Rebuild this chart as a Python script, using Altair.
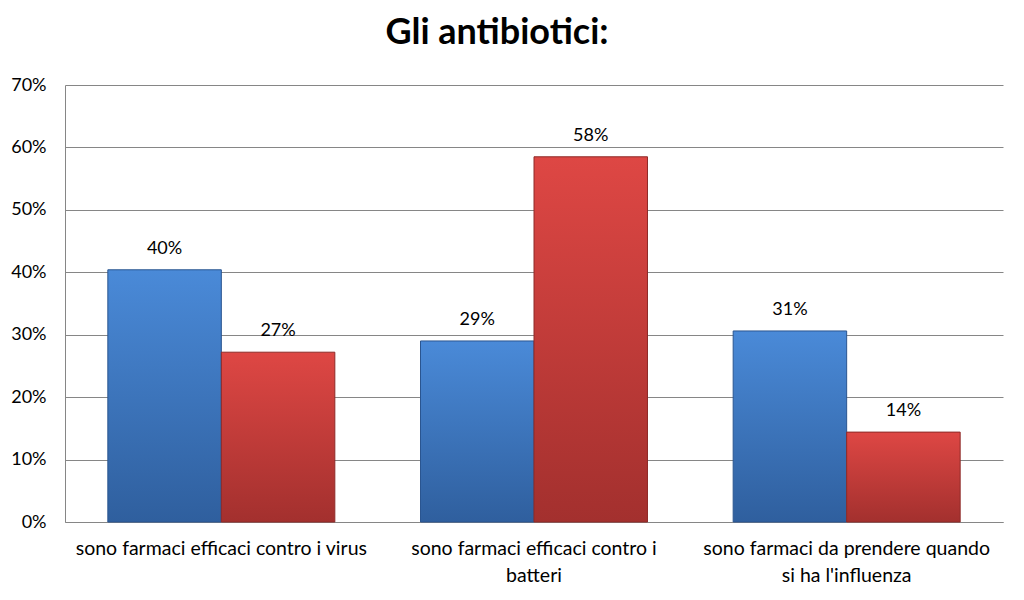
import altair as alt
import pandas as pd

categories = [
    "sono farmaci efficaci contro i virus",
    "sono farmaci efficaci contro i|batteri",
    "sono farmaci da prendere quando|si ha l'influenza",
]
series = ["Serie 1", "Serie 2"]
values_s1 = [0.404, 0.290, 0.306]
values_s2 = [0.272, 0.585, 0.144]
labels_s1 = ["40%", "29%", "31%"]
labels_s2 = ["27%", "58%", "14%"]
y_ticks = [0, 0.1, 0.2, 0.3, 0.4, 0.5, 0.6, 0.7]

rows = []
for c, v, l in zip(categories, values_s1, labels_s1):
    rows.append({"cat": c, "serie": series[0], "val": v, "lab": l})
for c, v, l in zip(categories, values_s2, labels_s2):
    rows.append({"cat": c, "serie": series[1], "val": v, "lab": l})
df = pd.DataFrame(rows)

FONT = "Lato"

x_enc = alt.X(
    "cat:N",
    sort=categories,
    scale=alt.Scale(paddingInner=0.274, paddingOuter=0.137),
    axis=alt.Axis(
        title=None,
        labelExpr="split(datum.label, '|')",
        labelAngle=0,
        labelFontSize=19.5,
        labelFont=FONT,
        labelColor="#000000",
        labelPadding=17,
        labelLineHeight=27,
        labelBaseline="top",
        ticks=False,
        domainColor="#868686",
        labelLimit=400,
    ),
)
xoff = alt.XOffset("serie:N", sort=series, scale=alt.Scale(domain=series, paddingInner=0, paddingOuter=0))
y_enc = alt.Y(
    "val:Q",
    scale=alt.Scale(domain=[0, 0.7], nice=False),
    axis=alt.Axis(
        title=None,
        values=y_ticks,
        format=".0%",
        labelFontSize=18,
        labelFont=FONT,
        labelColor="#000000",
        labelPadding=19,
        ticks=False,
        domainColor="#868686",
        gridColor="#868686",
        gridWidth=1,
    ),
)

def grad(top, bottom):
    return alt.Gradient(
        gradient="linear",
        stops=[alt.GradientStop(color=top, offset=0), alt.GradientStop(color=bottom, offset=1)],
        x1=0, x2=0, y1=0, y2=1,
    )

base = alt.Chart(df)

blue = base.transform_filter(alt.datum.serie == series[0]).mark_bar(
    fill=grad("#4a8ad8", "#2f5f9e"), stroke="#2a5590", strokeWidth=1
).encode(x=x_enc, xOffset=xoff, y=y_enc)

red = base.transform_filter(alt.datum.serie == series[1]).mark_bar(
    fill=grad("#de4744", "#a3302e"), stroke="#8e2a28", strokeWidth=1
).encode(x=x_enc, xOffset=xoff, y=y_enc)

text = base.mark_text(
    dy=-21, baseline="middle", align="center", fontSize=18, font=FONT, color="#000000"
).encode(x=x_enc, xOffset=xoff, y=y_enc, text="lab:N")

chart = (
    alt.layer(blue, red, text)
    .properties(
        width=938,
        height=437,
        title=alt.TitleParams(
            "Gli antibiotici:", font=FONT, fontSize=36, fontWeight="bold",
            color="#000000", anchor="middle", offset=24, dx=-37,
        ),
        autosize=alt.AutoSizeParams(type="none"),
        padding={"left": 57, "top": 77, "right": 13, "bottom": 70},
    )
    .configure_view(stroke=None)
    .configure_axis(grid=True)
    .configure_axisX(grid=False)
)

chart.save("out.html", embed_options={"renderer": "svg", "actions": False})
